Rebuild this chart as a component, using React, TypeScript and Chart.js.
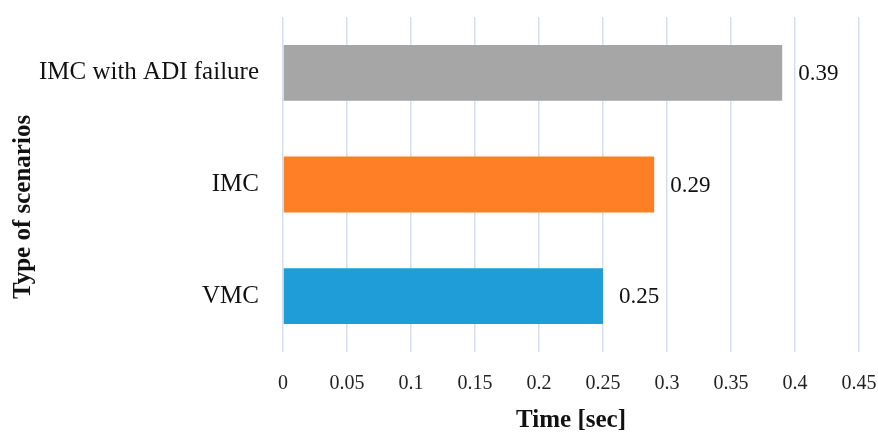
import React, { useEffect, useRef } from "react";
import { Chart, registerables } from "chart.js";

Chart.register(...registerables);

const categories = ["IMC with ADI failure", "IMC", "VMC"];
const values = [0.39, 0.29, 0.25];
const barColors = ["#A6A6A6", "#FF7F27", "#1F9DD9"];
const xTicks = [0, 0.05, 0.1, 0.15, 0.2, 0.25, 0.3, 0.35, 0.4, 0.45];
const xTitle = "Time [sec]";
const yTitle = "Type of scenarios";

const FONT = "'Liberation Serif', 'Times New Roman', serif";

const labelPlugin = {
  id: "valueLabels",
  afterDatasetsDraw(chart: any) {
    const ctx = chart.ctx;
    const meta = chart.getDatasetMeta(0);
    ctx.save();
    ctx.font = `23px ${FONT}`;
    ctx.fillStyle = "#111";
    ctx.textAlign = "left";
    ctx.textBaseline = "middle";
    meta.data.forEach((bar: any, i: number) => {
      ctx.fillText(String(values[i]), bar.x + 16, bar.y + 1);
    });
    ctx.restore();
  },
};

const yTitlePlugin = {
  id: "yTitle",
  afterDraw(chart: any) {
    const ctx = chart.ctx;
    ctx.save();
    ctx.font = `bold 25px ${FONT}`;
    ctx.fillStyle = "#111";
    ctx.textAlign = "center";
    ctx.textBaseline = "middle";
    ctx.translate(24, 207);
    ctx.rotate(-Math.PI / 2);
    ctx.fillText(yTitle, 0, 0);
    ctx.restore();
  },
};

export default function App() {
  const ref = useRef<HTMLCanvasElement | null>(null);
  useEffect(() => {
    document.body.style.margin = "0";
    const canvas = ref.current!;
    const chart = new Chart(canvas, {
      type: "bar",
      data: {
        labels: categories,
        datasets: [
          {
            data: values,
            backgroundColor: barColors,
            borderWidth: 0,
            barPercentage: 0.5,
            categoryPercentage: 1,
          },
        ],
      },
      options: {
        indexAxis: "y",
        animation: false,
        responsive: false,
        maintainAspectRatio: false,
        layout: { padding: { left: 0, right: 19, top: 17, bottom: 0 } },
        plugins: {
          legend: { display: false },
          tooltip: { enabled: false },
        },
        scales: {
          x: {
            min: 0,
            max: 0.45,
            afterBuildTicks(scale: any) {
              scale.ticks = xTicks.map((v) => ({ value: v }));
            },
            afterFit(scale: any) {
              scale.height = 80;
              scale.paddingLeft = 0;
              scale.paddingRight = 0;
            },
            ticks: {
              font: { family: FONT, size: 20 },
              color: "#222",
              padding: 20,
              maxRotation: 0,
              callback: (v: any) => String(Number(v)),
            },
            grid: {
              color: "#D5DFEA",
              lineWidth: 1.5,
              drawTicks: false,
            },
            border: { display: false },
            title: {
              display: true,
              text: xTitle,
              font: { family: FONT, size: 25, weight: "bold", lineHeight: 1 },
              color: "#111",
              padding: { top: 0, bottom: -1 },
            },
          },
          y: {
            afterFit(scale: any) {
              scale.width = 283;
              scale.paddingTop = 0;
              scale.paddingBottom = 0;
            },
            ticks: {
              font: { family: FONT, size: 25 },
              color: "#111",
              padding: 24,
            },
            grid: { display: false, drawTicks: false },
            border: { display: false },
          },
        },
      },
      plugins: [labelPlugin, yTitlePlugin],
    } as any);
    return () => chart.destroy();
  }, []);
  return (
    <div style={{ width: 878, height: 432 }}>
      <canvas ref={ref} width={878} height={432} style={{ width: 878, height: 432, display: "block" }} />
    </div>
  );
}
